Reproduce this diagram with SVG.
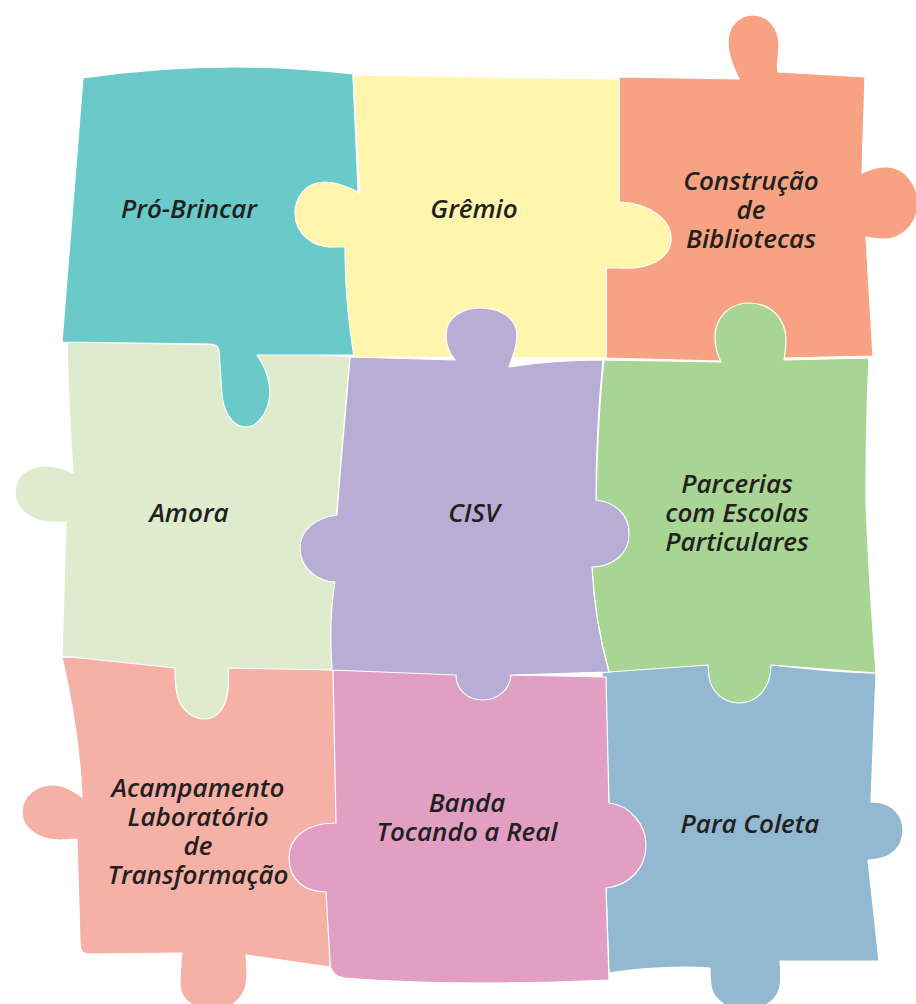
<svg xmlns="http://www.w3.org/2000/svg" width="916" height="1004" viewBox="0 0 916 1004">
<style>
.p{stroke:#fff;stroke-width:1.2;stroke-linejoin:round}
.t{font-family:"Open Sans","Liberation Sans",sans-serif;font-style:italic;font-weight:600;font-size:26px;fill:#231f20;text-anchor:middle}
</style>
<rect width="916" height="1004" fill="#fff"/>
<g id="acampamento">
<path class="p" fill="#f5b1a5" d="M62,657 L333,670 C336,720 337,780 336,823 L330,890 L330,967 L246,955 C247,965 248,975 246,985 C243,998 232,1010 212,1010 C192,1010 180,997 180,985 C180,972 181,962 182,953 L88,954 Q80,954 80,943 L77,839 C70,839 65,840 60,840 C38,840 22,828 22,812 C22,795 38,785 52,785 C65,785 75,792 82,797 C80,750 72,700 62,657 Z"/>
<text class="t" x="198" y="797">Acampamento</text>
<text class="t" x="198" y="826">Laboratório</text>
<text class="t" x="198" y="855">de</text>
<text class="t" x="198" y="884">Transformação</text>
</g>
<g id="amora">
<path class="p" fill="#dfebcd" d="M67,342 L218,345 L350,357 C345,420 340,470 337,507 L335,582 L332,670 L228,668 C229,680 229,690 226,700 C222,712 214,719 205,719 C192,719 182,710 178,698 C175,688 175,678 175,668 L62,656 L66,522 C60,522 55,523 50,522 C30,521 15,508 15,492 C15,475 30,466 45,466 C55,466 65,469 73,473 C70,430 68,390 67,342 Z"/>
<text class="t" x="189" y="522">Amora</text>
</g>
<g id="pro-brincar">
<path class="p" fill="#6ac9c9" d="M83,78 Q218,58 353,74 L358,190 L356,250 L354,355 L257,355 C266,368 272,385 269,400 C266,416 256,427 246,427 C232,427 224,412 222,395 L219,350 Q218,344 210,344 L62,342 L83,78 Z"/>
<text class="t" x="189" y="218">Pró-Brincar</text>
</g>
<g id="construcao">
<path class="p" fill="#f7a283" d="M619,77 L739,79 C735,70 728,58 728,42 C728,25 740,15 753,15 C768,15 779,28 779,45 C779,58 776,66 778,72 L865,77 L862,173 C872,168 880,166 888,167 C905,168 918,185 918,203 C918,225 900,240 883,239 C876,239 870,238 866,237 L873,356 L784,358 L721,361 L606,358 L606,268 L619,202 Z"/>
<text class="t" x="751" y="190">Construção</text>
<text class="t" x="751" y="219">de</text>
<text class="t" x="751" y="248">Bibliotecas</text>
</g>
<g id="gremio">
<path class="p" fill="#fff5ad" d="M353,75 L619,79 L619,202 C650,203 672,220 671,240 C670,258 650,270 620,268 L606,268 L606,358 L354,357 C348,320 345,290 345,247 L333,247 C315,248 295,235 295,213 C295,198 305,182 325,182 C335,182 345,185 360,193 C357,150 355,110 353,75 Z"/>
<text class="t" x="474" y="218">Grêmio</text>
</g>
<g id="para-coleta">
<path class="p" fill="#93b8d2" d="M602,673 C640,668 680,665 708,665 L771,665 C800,668 840,673 876,673 L871,802 C895,802 903,818 903,830 C903,848 890,860 868,860 L879,961 L780,961 C781,972 781,985 779,990 C775,1002 762,1010 745,1010 C728,1010 715,1000 712,990 C710,983 710,975 710,968 C680,966 640,968 609,973 L606,888 L609,803 L602,673 Z"/>
<text class="t" x="750" y="833">Para Coleta</text>
</g>
<g id="parcerias">
<path class="p" fill="#a8d494" d="M604,360 L721,362 C716,352 715,345 715,337 C715,317 730,303 749,303 C770,303 786,318 786,340 C786,348 785,354 784,360 L869,358 C866,420 866,480 866,500 C868,560 872,620 876,673 L771,665 C771,688 757,703 739,703 C722,703 711,690 709,677 L708,665 L609,672 C600,640 594,610 592,567 L596,500 C597,460 598,410 604,360 Z"/>
<text class="t" x="737" y="493">Parcerias</text>
<text class="t" x="737" y="522">com Escolas</text>
<text class="t" x="737" y="551">Particulares</text>
</g>
<g id="banda">
<path class="p" fill="#e19fc4" d="M333,670 L456,672 L511,675 L606,677 C607,720 608,760 609,803 C630,805 646,825 646,845 C646,868 630,885 606,888 L609,980 C520,984 420,984 345,978 Q330,976 330,962 L326,892 C305,892 289,880 289,858 C289,838 305,823 336,823 C335,780 334,720 333,670 Z"/>
<text class="t" x="467" y="812">Banda</text>
<text class="t" x="467" y="841">Tocando a Real</text>
</g>
<g id="cisv">
<path class="p" fill="#b8aed5" d="M350,357 L455,360 C448,352 446,344 446,335 C446,318 462,308 480,308 C500,308 517,318 517,335 C517,348 512,358 509,367 C540,362 570,360 603,360 C598,410 596,460 596,500 C615,502 630,515 629,535 C629,553 613,567 592,567 C594,610 600,640 609,672 L511,675 C510,690 497,700 483,700 C468,700 456,690 456,675 L332,670 C330,640 330,610 335,582 C318,582 300,568 300,548 C300,530 315,518 337,515 C340,470 345,420 350,357 Z"/>
<text class="t" x="474" y="522">CISV</text>
</g>
<g id="connectors"/>
</svg>
